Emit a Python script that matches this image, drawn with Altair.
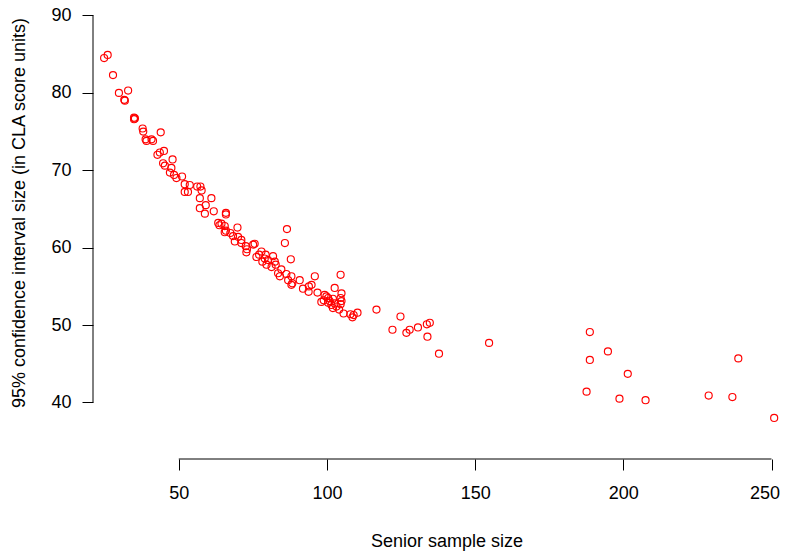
import altair as alt
import pandas as pd

# Senior sample size (x) and 95% CI size in CLA score units (y)
senior_n = [
    24.8, 26.0, 27.8, 29.8, 32.9, 31.6, 31.8, 34.9, 34.9, 35.2,
    37.8, 38.0, 43.9, 38.8, 39.1, 40.8, 41.3, 42.8, 43.6, 45.0,
    47.9, 44.7, 45.3, 47.5, 47.0, 48.4, 49.2, 51.1, 52.0, 53.7,
    56.2, 57.3, 52.0, 53.1, 57.7, 61.0, 57.1, 59.1, 57.1, 58.8,
    61.8, 65.9, 65.9, 63.3, 64.4, 63.7, 65.5, 69.8, 65.9, 65.5,
    67.4, 68.3, 70.0, 68.9, 71.1, 71.1, 72.6, 73.0, 72.8, 75.6,
    75.1, 77.9, 76.2, 79.3, 77.1, 79.0, 78.2, 80.1, 79.6, 81.8,
    82.4, 82.7, 81.3, 84.6, 83.5, 84.1, 86.5, 85.8, 87.8, 86.3,
    88.0, 86.9, 88.3, 88.0, 90.8, 95.9, 94.8, 93.9, 91.9, 93.8,
    96.8, 98.1, 99.2, 99.8, 100.4, 100.9, 98.9, 100.4, 102.0, 102.6,
    101.5, 103.2, 102.6, 104.6, 104.9, 104.6, 104.9, 104.6, 104.1, 102.0,
    105.6, 107.9, 108.6, 109.0, 110.3, 116.7, 122.1, 124.8, 126.8, 127.9,
    130.7, 133.7, 134.7, 133.9, 137.8, 154.7, 188.7, 194.8, 188.7, 201.5,
    187.6, 198.7, 207.5, 228.8, 236.8, 238.8, 250.9,
]
ci_size = [
    84.5, 84.9, 82.3, 80.0, 80.3, 79.1, 79.0, 76.8, 76.6, 76.7,
    75.4, 75.0, 74.9, 74.0, 73.8, 74.0, 73.8, 72.0, 72.3, 72.5,
    71.4, 70.9, 70.6, 70.3, 69.7, 69.4, 69.0, 69.2, 68.2, 68.1,
    67.9, 67.9, 67.2, 67.2, 67.4, 66.4, 66.4, 65.5, 65.1, 64.4,
    64.7, 64.5, 64.3, 63.2, 63.1, 62.9, 62.8, 62.6, 62.2, 62.0,
    61.9, 61.5, 61.4, 60.8, 61.0, 60.6, 60.2, 59.8, 59.4, 60.5,
    60.4, 59.5, 58.8, 59.1, 59.1, 58.6, 58.2, 58.4, 57.8, 58.9,
    58.2, 57.8, 57.5, 57.2, 56.7, 56.3, 62.4, 60.6, 58.5, 56.6,
    56.3, 55.8, 55.4, 55.2, 55.8, 56.3, 55.2, 55.0, 54.7, 54.3,
    54.2, 53.0, 53.9, 53.7, 53.5, 53.1, 53.2, 52.9, 53.4, 52.8,
    52.6, 52.4, 54.8, 56.5, 54.1, 53.5, 53.1, 52.7, 52.0, 52.2,
    51.5, 51.4, 51.0, 51.3, 51.6, 52.0, 49.4, 51.1, 49.0, 49.4,
    49.7, 50.1, 50.3, 48.5, 46.3, 47.7, 49.1, 46.6, 45.5, 43.7,
    41.4, 40.5, 40.3, 40.9, 40.7, 45.7, 38.0,
]

x_ticks = [50, 100, 150, 200, 250]
y_ticks = [40, 50, 60, 70, 80, 90]

x_title = "Senior sample size"
y_title = "95% confidence interval size (in CLA score units)"

df = pd.DataFrame({"n": senior_n, "ci": ci_size})
x_line = pd.DataFrame({"n": [x_ticks[0]], "n2": [x_ticks[-1]]})
y_line = pd.DataFrame({"ci": [y_ticks[0]], "ci2": [y_ticks[-1]]})

W, H = 682, 449
FONT = "Liberation Sans"
xs = alt.Scale(domain=[21.05, 251.18], nice=False, zero=False)
ys = alt.Scale(domain=[32.70, 90.71], nice=False, zero=False)

ax_x = alt.Axis(
    values=x_ticks, domain=False, grid=False, tickSize=11, tickColor="black",
    tickWidth=1, labelFontSize=18, labelPadding=14, labelColor="black",
    labelFont=FONT, title=x_title, titleFont=FONT, titleFontSize=18,
    titleFontWeight="normal", titleColor="black", titlePadding=30,
    titleX=353.5, labelFlush=False,
    labelOffset={"condition": {"test": f"datum.value == {x_ticks[-1]}", "value": -7}, "value": 0},
)
ax_y = alt.Axis(
    values=y_ticks, domain=False, grid=False, tickSize=11, tickColor="black",
    tickWidth=1, labelFontSize=18, labelPadding=11, labelColor="black",
    labelFont=FONT, title=y_title, titleFont=FONT, titleFontSize=18,
    titleFontWeight="normal", titleColor="black", titlePadding=22,
    titleY=202.5, labelFlush=False)

points = alt.Chart(df).mark_point(
    shape="circle", filled=False, color="#ff0000", size=50, strokeWidth=1.15, opacity=1
).encode(
    x=alt.X("n:Q", scale=xs, axis=ax_x),
    y=alt.Y("ci:Q", scale=ys, axis=ax_y),
)

xrule = alt.Chart(x_line).mark_rule(color="black", strokeWidth=1).encode(
    x=alt.X("n:Q", scale=xs, axis=ax_x), x2="n2:Q", y=alt.value(H)
)
yrule = alt.Chart(y_line).mark_rule(color="black", strokeWidth=1).encode(
    y=alt.Y("ci:Q", scale=ys, axis=ax_y), y2="ci2:Q", x=alt.value(0)
)

chart = alt.layer(points, xrule, yrule).properties(
    width=W, height=H,
    padding={"left": 85, "top": 2, "right": 5, "bottom": 93},
    autosize=alt.AutoSizeParams(type="none"),
    background="white",
).configure_view(stroke=None)

chart.save("out.html", embed_options={"renderer": "svg", "actions": False})
